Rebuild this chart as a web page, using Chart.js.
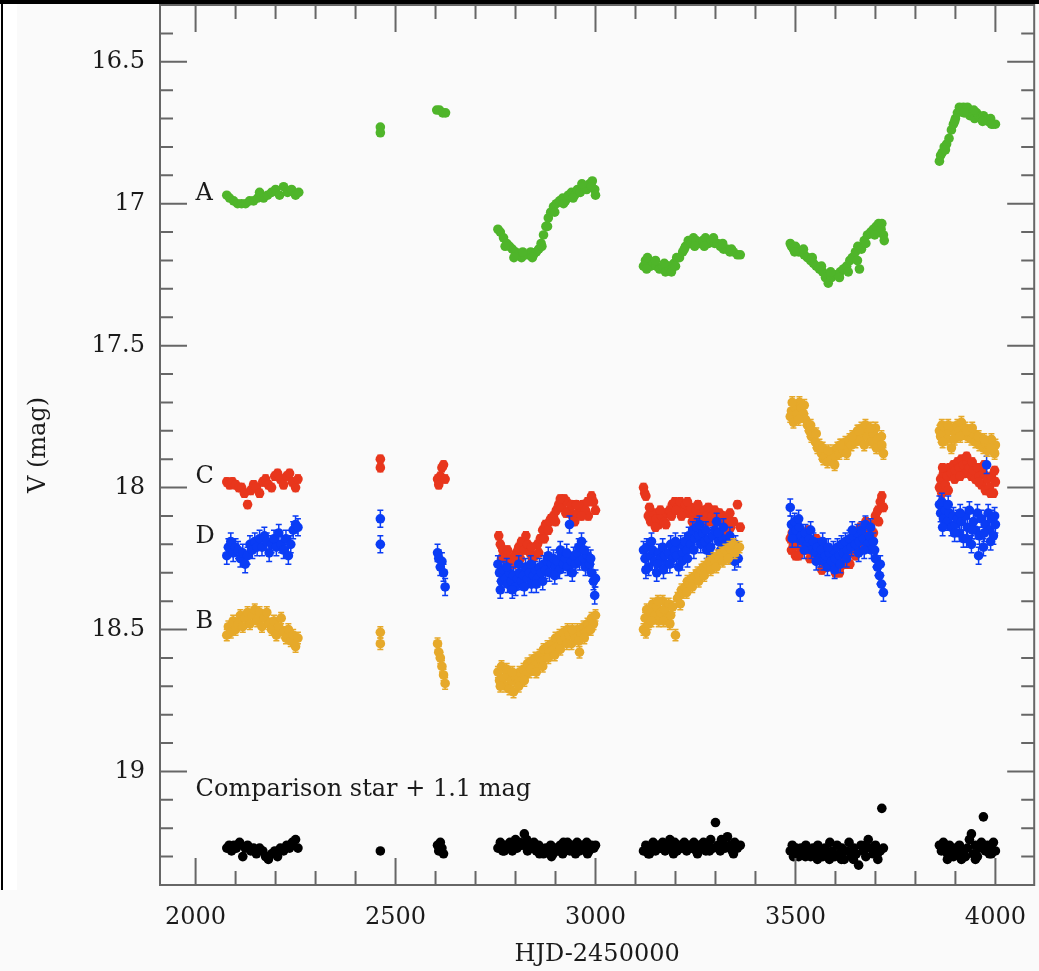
<!DOCTYPE html>
<html>
<head>
<meta charset="utf-8">
<script src="https://cdn.jsdelivr.net/npm/chart.js@4.4.1/dist/chart.umd.min.js"></script>
<style>
  html, body { margin: 0; padding: 0; background: #fafafa; }
  #wrap { position: relative; width: 1039px; height: 971px; }
  #topband { position: absolute; left: 0; top: 0; width: 1039px; height: 4px; background: #000; }
  #leftline { position: absolute; left: 1px; top: 0; width: 2px; height: 890px; background: #000; }
  #leftwhite { position: absolute; left: 3px; top: 4px; width: 14px; height: 886px; background: #fff; }
  canvas { position: absolute; left: 0; top: 0; }
</style>
</head>
<body>
<div id="wrap">
  <div id="leftwhite"></div>
  <canvas id="lc" width="1039" height="971"></canvas>
  <div id="topband"></div>
  <div id="leftline"></div>
</div>
<script>
// axes
const xMajor = [2000, 2500, 3000, 3500, 4000];
const xMinor = [2100, 2200, 2300, 2400, 2600, 2700, 2800, 2900, 3100, 3200, 3300, 3400, 3600, 3700, 3800, 3900];
const yMajor = [16.5, 17, 17.5, 18, 18.5, 19];
const yMinor = [16.4, 16.6, 16.7, 16.8, 16.9, 17.1, 17.2, 17.3, 17.4, 17.6, 17.7, 17.8, 17.9, 18.1, 18.2, 18.3, 18.4, 18.6, 18.7, 18.8, 18.9, 19.1, 19.2, 19.3];

// image A (green), [HJD-2450000, V]
const imgA = [
  [2078,16.97],[2085,16.98],[2095,16.99],[2105,17.00],[2115,17.00],[2125,17.00],[2135,16.99],[2145,16.99],[2155,16.98],[2160,16.96],
  [2170,16.98],[2180,16.97],[2190,16.96],[2200,16.95],[2210,16.97],[2220,16.94],[2230,16.96],[2240,16.95],[2250,16.97],[2258,16.96],
  [2462,16.73],[2462,16.75],
  [2603,16.67],[2610,16.67],[2618,16.68],[2625,16.68],
  [2756,17.09],[2762,17.10],[2770,17.12],[2778,17.14],[2785,17.15],[2792,17.16],[2800,17.17],[2808,17.18],[2815,17.19],[2822,17.18],
  [2830,17.18],[2838,17.17],[2845,17.18],[2852,17.17],[2858,17.16],[2864,17.14],[2870,17.11],[2876,17.08],[2882,17.05],[2888,17.03],
  [2895,17.01],[2902,17.00],[2910,16.99],[2918,16.98],[2925,16.99],[2932,16.97],[2940,16.96],[2948,16.97],[2955,16.95],[2962,16.96],
  [2970,16.94],[2978,16.95],[2985,16.93],[2992,16.92],[2998,16.95],[3000,16.97],
  [2774,17.15],[2796,17.19],[2818,17.17],[2842,17.19],[2866,17.15],[2880,17.08],[2898,17.03],[2920,17.00],[2944,16.98],[2966,16.93],[2990,16.94],
  [3120,17.22],[3125,17.20],[3130,17.19],[3138,17.22],[3145,17.21],[3152,17.22],[3160,17.23],[3168,17.22],[3175,17.24],[3182,17.22],
  [3190,17.24],[3196,17.21],[3203,17.19],[3210,17.19],[3218,17.17],[3225,17.15],[3232,17.13],[3238,17.14],[3245,17.12],[3252,17.13],
  [3260,17.14],[3268,17.13],[3275,17.12],[3283,17.14],[3290,17.13],[3298,17.14],[3305,17.14],[3312,17.15],[3320,17.16],[3328,17.16],
  [3336,17.17],[3345,17.17],[3355,17.18],[3362,17.18],
  [3128,17.23],[3150,17.20],[3172,17.21],[3200,17.22],[3222,17.16],[3248,17.15],[3272,17.15],[3295,17.12],[3318,17.14],[3340,17.16],
  [3487,17.14],[3490,17.15],[3495,17.16],[3500,17.15],[3508,17.17],[3515,17.17],[3522,17.18],[3530,17.19],[3538,17.20],[3545,17.21],
  [3552,17.22],[3560,17.23],[3568,17.24],[3575,17.26],[3582,17.28],[3590,17.26],[3598,17.25],[3605,17.25],[3612,17.24],[3620,17.23],
  [3628,17.22],[3636,17.20],[3642,17.19],[3650,17.17],[3656,17.15],[3660,17.23],[3665,17.16],[3672,17.13],[3680,17.11],[3688,17.10],
  [3695,17.09],[3702,17.08],[3708,17.07],[3714,17.09],[3720,17.11],[3722,17.13],
  [3498,17.17],[3520,17.16],[3542,17.19],[3565,17.22],[3588,17.24],[3610,17.26],[3632,17.24],[3655,17.20],[3676,17.14],[3698,17.11],[3716,17.07],
  [3860,16.85],[3863,16.83],[3867,16.82],[3872,16.80],[3878,16.79],[3884,16.77],[3890,16.74],[3895,16.72],[3900,16.70],[3905,16.68],
  [3910,16.66],[3915,16.67],[3920,16.66],[3925,16.67],[3930,16.66],[3936,16.69],[3942,16.68],[3948,16.70],[3953,16.68],[3958,16.69],
  [3964,16.70],[3970,16.69],[3976,16.70],[3982,16.71],[3988,16.70],[3994,16.72],[4000,16.72],
  [3875,16.81],[3898,16.71],[3922,16.68],[3946,16.67],[3968,16.71],[3990,16.72]
];

// image C (red)
const imgC = [
  [2078,17.98],[2085,17.99],[2092,17.98],[2100,17.99],[2108,18.00],[2115,18.00],[2122,18.02],[2130,18.06],[2138,18.01],[2145,17.99],
  [2152,18.00],[2160,18.02],[2168,17.98],[2175,17.97],[2182,17.99],[2190,18.00],[2198,17.96],[2205,17.95],[2212,17.97],[2220,17.99],
  [2228,17.96],[2235,17.95],[2242,17.98],[2250,18.00],[2256,17.97],
  [2462,17.90],[2462,17.93],
  [2605,17.97],[2608,17.99],[2612,17.96],[2616,17.93],[2620,17.92],[2624,17.97],
  [2758,18.17],[2762,18.20],[2768,18.22],[2775,18.24],[2782,18.26],[2788,18.25],[2795,18.27],[2802,18.23],[2808,18.21],[2815,18.19],
  [2822,18.22],[2830,18.20],[2836,18.23],[2842,18.25],[2848,18.24],[2855,18.20],[2862,18.18],[2868,18.15],[2875,18.13],[2882,18.15],
  [2888,18.11],[2895,18.10],[2902,18.08],[2908,18.06],[2915,18.07],[2922,18.04],[2928,18.05],[2935,18.08],[2942,18.10],[2948,18.12],
  [2955,18.09],[2962,18.07],[2968,18.06],[2975,18.08],[2982,18.10],[2990,18.03],[2995,18.05],[3000,18.08],
  [2765,18.25],[2780,18.22],[2798,18.24],[2812,18.25],[2826,18.17],[2840,18.21],[2858,18.23],[2872,18.18],[2885,18.12],[2900,18.12],
  [2912,18.04],[2926,18.09],[2940,18.06],[2952,18.06],[2965,18.10],[2980,18.05],
  [3120,18.00],[3123,18.02],[3126,18.03],[3132,18.10],[3138,18.12],[3145,18.09],[3152,18.11],[3158,18.13],[3165,18.10],[3172,18.12],
  [3178,18.09],[3185,18.08],[3192,18.06],[3198,18.05],[3205,18.07],[3212,18.05],[3218,18.08],[3225,18.06],[3232,18.09],[3238,18.07],
  [3245,18.10],[3252,18.08],[3258,18.11],[3265,18.09],[3272,18.08],[3278,18.10],[3285,18.12],[3292,18.10],[3298,18.08],[3305,18.11],
  [3312,18.12],[3318,18.10],[3325,18.13],[3332,18.11],[3338,18.14],[3345,18.12],[3355,18.06],[3362,18.14],
  [3135,18.07],[3150,18.14],[3162,18.08],[3176,18.13],[3190,18.10],[3202,18.08],[3215,18.10],[3230,18.05],[3242,18.12],[3256,18.06],
  [3270,18.12],[3282,18.07],[3296,18.12],[3310,18.09],[3322,18.15],[3336,18.09],
  [3487,18.18],[3490,18.22],[3495,18.20],[3500,18.24],[3505,18.17],[3510,18.21],[3518,18.19],[3525,18.22],[3532,18.15],[3540,18.20],
  [3548,18.23],[3555,18.25],[3562,18.22],[3570,18.26],[3578,18.28],[3585,18.25],[3592,18.27],[3600,18.30],[3606,18.26],[3612,18.28],
  [3618,18.24],[3625,18.27],[3632,18.23],[3640,18.20],[3646,18.22],[3652,18.18],[3658,18.21],[3665,18.17],[3672,18.20],[3680,18.15],
  [3688,18.13],[3695,18.16],[3700,18.10],[3706,18.08],[3712,18.05],[3716,18.03],[3720,18.07],
  [3492,18.16],[3508,18.24],[3522,18.16],[3536,18.25],[3552,18.18],[3566,18.29],[3582,18.22],[3596,18.24],[3610,18.30],[3622,18.21],
  [3636,18.27],[3650,18.24],[3662,18.14],[3676,18.12],[3690,18.19],[3708,18.12],
  [3860,18.00],[3863,17.97],[3866,18.02],[3870,17.95],[3875,17.99],[3880,17.96],[3885,17.93],[3890,17.95],[3895,17.92],[3900,17.94],
  [3905,17.91],[3910,17.93],[3915,17.90],[3920,17.92],[3925,17.95],[3930,17.91],[3935,17.93],[3940,17.96],[3945,17.94],[3950,17.97],
  [3955,17.93],[3960,17.96],[3965,17.99],[3970,17.95],[3975,18.01],[3980,17.97],[3985,18.00],[3990,17.96],[3995,18.02],[4000,17.98],
  [3868,17.93],[3882,18.01],[3898,17.97],[3912,17.96],[3928,17.89],[3942,17.91],[3958,17.98],[3972,17.92],[3988,18.02],[3998,17.94]
];

// image D (blue)
const imgD = [
  [2078,18.24],[2082,18.21],[2088,18.19],[2094,18.23],[2100,18.21],[2106,18.22],[2112,18.25],[2118,18.23],[2124,18.27],[2130,18.24],
  [2136,18.20],[2142,18.22],[2148,18.19],[2154,18.21],[2160,18.18],[2166,18.21],[2172,18.17],[2178,18.19],[2184,18.23],[2190,18.20],
  [2196,18.18],[2202,18.21],[2208,18.16],[2214,18.20],[2220,18.22],[2226,18.18],[2232,18.24],[2238,18.20],[2244,18.15],[2250,18.13],[2256,18.14],
  [2462,18.11],[2462,18.20],
  [2605,18.23],[2608,18.25],[2612,18.28],[2616,18.26],[2620,18.30],[2624,18.35],
  [2756,18.27],[2760,18.30],[2765,18.33],[2770,18.29],[2775,18.32],[2780,18.34],[2785,18.30],[2790,18.33],[2795,18.31],[2800,18.35],
  [2805,18.32],[2810,18.30],[2815,18.33],[2820,18.31],[2825,18.28],[2830,18.32],[2835,18.30],[2840,18.34],[2845,18.31],[2850,18.29],
  [2855,18.32],[2860,18.28],[2865,18.30],[2870,18.27],[2875,18.29],[2880,18.26],[2885,18.30],[2890,18.27],[2895,18.25],[2900,18.28],
  [2905,18.26],[2910,18.29],[2915,18.24],[2920,18.27],[2925,18.25],[2930,18.28],[2935,18.13],[2940,18.26],[2945,18.24],[2950,18.27],
  [2955,18.23],[2960,18.26],[2965,18.19],[2970,18.25],[2975,18.28],[2980,18.24],[2985,18.27],[2990,18.30],[2995,18.33],[2998,18.38],[3000,18.32],
  [2762,18.36],[2778,18.28],[2792,18.36],[2808,18.27],[2822,18.35],[2838,18.27],[2852,18.34],[2868,18.33],[2882,18.24],[2898,18.31],
  [2912,18.22],[2928,18.23],[2942,18.30],[2958,18.21],[2972,18.22],[2988,18.25],
  [3120,18.22],[3124,18.25],[3128,18.21],[3133,18.28],[3138,18.24],[3143,18.22],[3148,18.26],[3153,18.30],[3158,18.23],[3163,18.25],
  [3168,18.21],[3173,18.24],[3178,18.27],[3183,18.23],[3188,18.20],[3193,18.25],[3198,18.22],[3203,18.24],[3208,18.28],[3213,18.20],
  [3218,18.23],[3223,18.19],[3228,18.22],[3233,18.17],[3238,18.20],[3243,18.15],[3248,18.18],[3253,18.14],[3258,18.17],[3263,18.20],
  [3268,18.16],[3273,18.19],[3278,18.22],[3283,18.18],[3288,18.21],[3293,18.17],[3298,18.15],[3303,18.12],[3308,18.19],[3313,18.22],
  [3318,18.18],[3323,18.20],[3328,18.23],[3333,18.20],[3338,18.24],[3343,18.22],[3350,18.20],[3357,18.25],[3362,18.37],
  [3126,18.29],[3140,18.19],[3155,18.27],[3170,18.29],[3186,18.27],[3200,18.19],[3216,18.26],[3230,18.25],[3246,18.22],[3260,18.13],
  [3276,18.15],[3290,18.24],[3306,18.16],[3320,18.14],[3336,18.17],[3348,18.26],
  [3487,18.07],[3490,18.13],[3494,18.16],[3498,18.12],[3502,18.15],[3506,18.18],[3510,18.14],[3515,18.17],[3520,18.19],[3525,18.16],
  [3530,18.20],[3535,18.18],[3540,18.22],[3545,18.19],[3550,18.23],[3555,18.21],[3560,18.25],[3565,18.22],[3570,18.26],[3575,18.24],
  [3580,18.28],[3585,18.23],[3590,18.26],[3595,18.22],[3600,18.25],[3605,18.21],[3610,18.24],[3615,18.20],[3620,18.23],[3625,18.19],
  [3630,18.22],[3635,18.18],[3640,18.21],[3645,18.17],[3650,18.20],[3655,18.16],[3660,18.19],[3665,18.15],[3670,18.18],[3675,18.13],
  [3680,18.20],[3685,18.17],[3690,18.22],[3695,18.19],[3700,18.25],[3705,18.28],[3710,18.31],[3715,18.34],[3720,18.37],
  [3492,18.18],[3508,18.11],[3522,18.22],[3538,18.15],[3552,18.26],[3568,18.19],[3582,18.21],[3598,18.29],[3612,18.27],[3628,18.25],
  [3642,18.15],[3658,18.23],[3672,18.22],[3688,18.14],[3698,18.22],[3712,18.27],
  [3860,18.06],[3863,18.09],[3866,18.05],[3870,18.11],[3875,18.08],[3880,18.12],[3885,18.09],[3890,18.14],[3895,18.10],[3900,18.13],
  [3905,18.11],[3910,18.16],[3915,18.12],[3920,18.18],[3925,18.10],[3930,18.14],[3935,18.08],[3940,18.20],[3945,18.12],[3950,18.15],
  [3955,18.09],[3960,18.17],[3965,18.11],[3970,18.21],[3975,18.13],[3978,17.92],[3982,18.09],[3986,18.15],[3990,18.11],[3995,18.17],[4000,18.13],
  [3868,18.14],[3882,18.06],[3898,18.16],[3912,18.09],[3928,18.18],[3942,18.15],[3958,18.24],[3972,18.16],[3988,18.19],[3998,18.10]
];

// image B (gold)
const imgB = [
  [2078,18.52],[2082,18.49],[2088,18.51],[2094,18.47],[2100,18.50],[2106,18.48],[2112,18.45],[2118,18.49],[2124,18.46],[2130,18.44],
  [2136,18.48],[2142,18.45],[2148,18.43],[2154,18.47],[2160,18.44],[2166,18.49],[2172,18.46],[2178,18.44],[2184,18.48],[2190,18.50],
  [2196,18.47],[2202,18.52],[2208,18.49],[2214,18.46],[2220,18.51],[2226,18.53],[2232,18.50],[2238,18.54],[2244,18.52],[2250,18.56],[2256,18.53],
  [2462,18.51],[2462,18.55],
  [2605,18.55],[2608,18.58],[2612,18.60],[2616,18.63],[2620,18.66],[2624,18.69],
  [2756,18.65],[2760,18.68],[2765,18.63],[2770,18.67],[2775,18.70],[2780,18.66],[2785,18.71],[2790,18.68],[2795,18.72],[2800,18.67],
  [2805,18.69],[2810,18.65],[2815,18.68],[2820,18.64],[2825,18.66],[2830,18.62],[2835,18.65],[2840,18.61],[2845,18.63],[2850,18.60],
  [2855,18.62],[2860,18.59],[2865,18.61],[2870,18.57],[2875,18.60],[2880,18.56],[2885,18.58],[2890,18.55],[2895,18.57],[2900,18.53],
  [2905,18.56],[2910,18.52],[2915,18.54],[2920,18.51],[2925,18.53],[2930,18.50],[2935,18.52],[2940,18.55],[2945,18.51],[2950,18.53],
  [2955,18.50],[2960,18.58],[2965,18.52],[2970,18.49],[2975,18.51],[2980,18.48],[2985,18.50],[2990,18.46],[2995,18.48],[3000,18.45],
  [2762,18.70],[2778,18.64],[2792,18.65],[2808,18.70],[2822,18.68],[2838,18.64],[2852,18.65],[2868,18.63],[2882,18.60],[2898,18.59],
  [2912,18.57],[2928,18.55],[2942,18.50],[2958,18.54],[2972,18.53],[2988,18.50],
  [3120,18.50],[3124,18.46],[3128,18.43],[3133,18.48],[3138,18.44],[3143,18.41],[3148,18.45],[3153,18.42],[3158,18.47],[3163,18.44],
  [3168,18.40],[3173,18.43],[3178,18.46],[3183,18.41],[3188,18.45],[3193,18.42],[3200,18.52],[3205,18.39],[3210,18.38],[3215,18.36],
  [3220,18.37],[3225,18.35],[3230,18.33],[3235,18.34],[3240,18.32],[3245,18.33],[3250,18.31],[3255,18.30],[3260,18.31],[3265,18.29],
  [3270,18.28],[3275,18.29],[3280,18.27],[3285,18.26],[3290,18.27],[3295,18.25],[3300,18.26],[3305,18.24],[3310,18.25],[3315,18.23],
  [3320,18.24],[3325,18.22],[3330,18.23],[3335,18.21],[3340,18.22],[3345,18.20],[3352,18.22],[3360,18.21],
  [3126,18.51],[3140,18.47],[3156,18.40],[3170,18.47],[3186,18.48],[3212,18.41],[3228,18.37],[3242,18.35],[3258,18.33],[3272,18.31],
  [3288,18.29],[3302,18.28],[3318,18.26],[3332,18.25],[3348,18.23],
  [3487,17.75],[3490,17.73],[3495,17.77],[3500,17.72],[3505,17.74],[3510,17.70],[3515,17.72],[3520,17.74],[3525,17.76],[3530,17.78],
  [3535,17.80],[3540,17.82],[3545,17.81],[3550,17.84],[3555,17.86],[3560,17.85],[3565,17.88],[3570,17.90],[3575,17.89],[3580,17.91],
  [3585,17.88],[3590,17.90],[3595,17.87],[3600,17.89],[3605,17.86],[3610,17.88],[3615,17.85],[3620,17.87],[3625,17.84],[3630,17.86],
  [3635,17.83],[3640,17.85],[3645,17.82],[3650,17.84],[3655,17.80],[3660,17.83],[3665,17.79],[3670,17.81],[3675,17.78],[3680,17.82],
  [3685,17.80],[3690,17.84],[3695,17.81],[3700,17.79],[3705,17.83],[3710,17.86],[3715,17.82],[3720,17.88],
  [3492,17.70],[3508,17.76],[3522,17.71],[3538,17.78],[3552,17.81],[3568,17.86],[3582,17.87],[3598,17.92],[3612,17.85],[3628,17.88],
  [3642,17.82],[3658,17.80],[3672,17.85],[3688,17.79],[3702,17.86],[3716,17.85],
  [3860,17.80],[3863,17.82],[3866,17.78],[3870,17.81],[3875,17.79],[3880,17.83],[3885,17.80],[3890,17.86],[3895,17.79],[3900,17.81],
  [3905,17.78],[3910,17.80],[3915,17.77],[3920,17.81],[3925,17.79],[3930,17.82],[3935,17.80],[3940,17.83],[3945,17.81],[3950,17.84],
  [3955,17.82],[3960,17.85],[3965,17.83],[3970,17.86],[3975,17.84],[3980,17.87],[3985,17.85],[3990,17.83],[3995,17.87],[4000,17.85],
  [3868,17.84],[3882,17.78],[3898,17.83],[3912,17.82],[3928,17.80],[3942,17.79],[3958,17.82],[3972,17.83],[3988,17.86],[3998,17.88]
];

// comparison star + 1.1 mag (black)
const compStar = [
  [2078,19.27],[2084,19.26],[2090,19.28],[2096,19.26],[2102,19.27],[2110,19.25],[2118,19.30],[2124,19.27],[2130,19.26],[2138,19.28],
  [2145,19.27],[2152,19.29],[2160,19.27],[2168,19.28],[2175,19.30],[2182,19.31],[2190,19.29],[2198,19.28],[2205,19.30],[2212,19.27],
  [2220,19.28],[2228,19.26],[2235,19.27],[2242,19.25],[2250,19.24],[2256,19.27],
  [2462,19.28],
  [2605,19.26],[2608,19.28],[2612,19.25],[2616,19.27],[2620,19.29],
  [2756,19.27],[2762,19.25],[2768,19.28],[2774,19.26],[2780,19.27],[2786,19.25],[2792,19.28],[2798,19.26],[2804,19.27],[2810,19.25],
  [2816,19.26],[2822,19.22],[2828,19.24],[2834,19.26],[2840,19.27],[2846,19.25],[2852,19.28],[2858,19.26],[2864,19.27],[2870,19.29],
  [2876,19.27],[2882,19.28],[2888,19.26],[2894,19.29],[2900,19.27],[2906,19.28],[2912,19.26],[2918,19.29],[2924,19.27],[2930,19.25],
  [2936,19.28],[2942,19.26],[2948,19.27],[2954,19.25],[2960,19.28],[2966,19.26],[2972,19.27],[2978,19.25],[2984,19.28],[2990,19.26],[2996,19.27],[3000,19.26],
  [2772,19.28],[2800,19.24],[2830,19.28],[2860,19.29],[2890,19.30],[2920,19.25],[2950,19.29],[2980,19.29],
  [3120,19.28],[3126,19.26],[3132,19.29],[3138,19.27],[3144,19.25],[3150,19.28],[3156,19.26],[3162,19.27],[3168,19.25],[3174,19.28],
  [3180,19.26],[3186,19.24],[3192,19.27],[3198,19.25],[3204,19.28],[3210,19.26],[3216,19.27],[3222,19.25],[3228,19.28],[3234,19.26],
  [3240,19.27],[3246,19.25],[3252,19.28],[3258,19.26],[3264,19.27],[3270,19.25],[3276,19.28],[3282,19.26],[3288,19.24],[3294,19.27],
  [3300,19.18],[3306,19.26],[3312,19.28],[3318,19.25],[3324,19.27],[3330,19.23],[3336,19.26],[3342,19.28],[3348,19.25],[3355,19.27],[3362,19.26],
  [3135,19.29],[3165,19.27],[3195,19.29],[3225,19.27],[3255,19.29],[3285,19.28],[3315,19.24],[3345,19.29],
  [3487,19.28],[3492,19.26],[3497,19.29],[3502,19.27],[3508,19.30],[3514,19.27],[3520,19.29],[3526,19.26],[3532,19.28],[3538,19.30],
  [3544,19.27],[3550,19.29],[3556,19.26],[3562,19.28],[3568,19.30],[3574,19.27],[3580,19.29],[3586,19.25],[3592,19.28],[3598,19.30],
  [3604,19.26],[3610,19.29],[3616,19.27],[3622,19.31],[3628,19.28],[3634,19.25],[3640,19.30],[3646,19.27],[3652,19.29],[3658,19.33],
  [3664,19.26],[3670,19.28],[3676,19.30],[3682,19.24],[3688,19.27],[3694,19.29],[3700,19.26],[3706,19.31],[3712,19.28],[3716,19.13],[3720,19.27],
  [3495,19.30],[3525,19.30],[3555,19.31],[3585,19.31],[3615,19.31],[3645,19.31],[3675,19.26],[3705,19.29],
  [3860,19.26],[3865,19.28],[3870,19.25],[3875,19.27],[3880,19.29],[3885,19.26],[3890,19.28],[3895,19.30],[3900,19.27],[3905,19.29],
  [3910,19.26],[3915,19.31],[3920,19.28],[3925,19.30],[3930,19.27],[3935,19.24],[3940,19.22],[3945,19.29],[3950,19.26],[3955,19.30],
  [3960,19.27],[3965,19.25],[3970,19.16],[3975,19.28],[3980,19.26],[3985,19.29],[3990,19.27],[3995,19.25],[4000,19.28],
  [3880,19.31],[3920,19.30],[3950,19.31],[3990,19.29]
];

// typical 1-sigma errors (mag): comp, B, D, C, A
const seriesErr = [0.008, 0.02, 0.03, 0.014, 0.008];

// text on the plot: [text, HJD, V at baseline]
const plotLabels = [
  ['A', 2000, 16.988],
  ['C', 2000, 17.985],
  ['D', 2000, 18.196],
  ['B', 2000, 18.495],
  ['Comparison star + 1.1 mag', 2000, 19.085]
];

const serif = '"DejaVu Serif", "Liberation Serif", serif';
const toXY = arr => arr.map(p => ({x: p[0], y: p[1]}));

// no extra room for half tick labels at the axis ends
const noEndPadding = s => {
    s.paddingLeft = 0; s.paddingRight = 0; s.paddingTop = 0; s.paddingBottom = 0;
};

// Error bars under the points, ticks and frame over everything
const errorBars = {
    id: 'errorBars',
    beforeDatasetDraw(chart, args) {
        const ds = chart.data.datasets[args.index];
        const yScale = chart.scales.y;
        const ctx = chart.ctx;
        ctx.save();
        ctx.strokeStyle = ds.backgroundColor;
        ctx.lineWidth = 1.5;
        args.meta.data.forEach((pt, i) => {
            const v = ds.data[i].y;
            const y1 = yScale.getPixelForValue(v - ds.err);
            const y2 = yScale.getPixelForValue(v + ds.err);
            ctx.beginPath();
            ctx.moveTo(pt.x, y1); ctx.lineTo(pt.x, y2);
            ctx.moveTo(pt.x - 3, y1); ctx.lineTo(pt.x + 3, y1);
            ctx.moveTo(pt.x - 3, y2); ctx.lineTo(pt.x + 3, y2);
            ctx.stroke();
        });
        ctx.restore();
    }
};

const frameTicks = {
    id: 'frameTicks',
    afterDraw(chart) {
        const {ctx, chartArea: a, scales: {x, y}} = chart;
        ctx.save();
        ctx.strokeStyle = '#666';
        ctx.lineWidth = 2;
        ctx.strokeRect(a.left, a.top, a.right - a.left, a.bottom - a.top);
        ctx.beginPath();
        const tickX = (vals, len) => vals.forEach(v => {
            const px = x.getPixelForValue(v);
            ctx.moveTo(px, a.bottom); ctx.lineTo(px, a.bottom - len);
            ctx.moveTo(px, a.top); ctx.lineTo(px, a.top + len);
        });
        const tickY = (vals, len) => vals.forEach(v => {
            const py = y.getPixelForValue(v);
            ctx.moveTo(a.left, py); ctx.lineTo(a.left + len, py);
            ctx.moveTo(a.right, py); ctx.lineTo(a.right - len, py);
        });
        tickX(xMajor, 27); tickX(xMinor, 14);
        tickY(yMajor, 27); tickY(yMinor, 13);
        ctx.stroke();

        ctx.fillStyle = '#1a1a1a';
        ctx.font = '24px ' + serif;
        ctx.textAlign = 'left';
        ctx.textBaseline = 'alphabetic';
        plotLabels.forEach(([t, hx, v]) => {
            ctx.fillText(t, x.getPixelForValue(hx), y.getPixelForValue(v));
        });
        ctx.restore();
    }
};

const mk = (data, color, err) => ({
    data: toXY(data),
    backgroundColor: color,
    borderColor: color,
    pointRadius: 4.8,
    pointBorderWidth: 0,
    pointHoverRadius: 4.8,
    err: err
});

new Chart(document.getElementById('lc'), {
    type: 'scatter',
    data: {
        // first dataset is painted last (on top)
        datasets: [
            mk(compStar, '#000000', seriesErr[0]),
            mk(imgB, '#e6a92a', seriesErr[1]),
            mk(imgD, '#0a3cf5', seriesErr[2]),
            mk(imgC, '#e8361c', seriesErr[3]),
            mk(imgA, '#4fb52a', seriesErr[4])
        ]
    },
    options: {
        responsive: false,
        animation: false,
        events: [],
        layout: {padding: {top: 5, right: 2, left: 0, bottom: 0}},
        plugins: {legend: {display: false}, tooltip: {enabled: false}},
        scales: {
            x: {
                type: 'linear',
                min: 1911,
                max: 4097,
                afterBuildTicks: s => { s.ticks = xMajor.map(v => ({value: v})); },
                afterFit: s => { s.height = 86; noEndPadding(s); },
                grid: {display: false, drawTicks: false, tickLength: 0},
                border: {display: false},
                ticks: {
                    color: '#1a1a1a',
                    font: {family: serif, size: 24},
                    padding: 18,
                    maxRotation: 0,
                    autoSkip: false,
                    callback: v => String(v)
                },
                title: {display: true, text: 'HJD-2450000', color: '#1a1a1a', font: {family: serif, size: 24}, padding: {top: 0, bottom: 2}}
            },
            y: {
                type: 'linear',
                reverse: true,
                min: 16.3,
                max: 19.4,
                afterBuildTicks: s => { s.ticks = yMajor.map(v => ({value: v})); },
                afterFit: s => { s.width = 160; noEndPadding(s); },
                grid: {display: false, drawTicks: false, tickLength: 0},
                border: {display: false},
                ticks: {
                    color: '#1a1a1a',
                    font: {family: serif, size: 24},
                    padding: 15,
                    autoSkip: false,
                    callback: v => String(v)
                },
                title: {display: true, text: 'V (mag)', color: '#1a1a1a', font: {family: serif, size: 24}, padding: {top: 24, bottom: 0}}
            }
        }
    },
    plugins: [errorBars, frameTicks]
});
</script>
</body>
</html>
